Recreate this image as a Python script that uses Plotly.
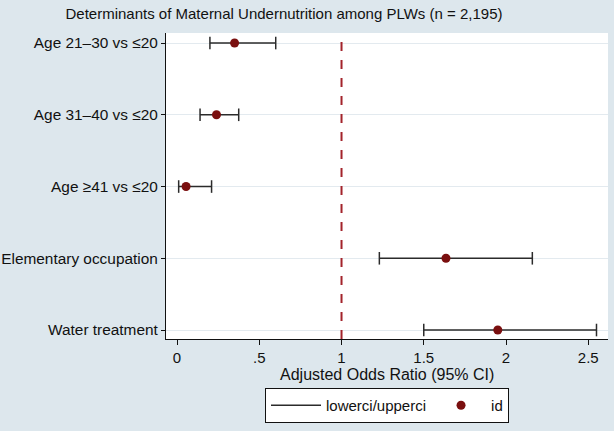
import plotly.graph_objects as go

categories = ["Age 21\u201330 vs \u226420", "Age 31\u201340 vs \u226420", "Age \u226541 vs \u226420",
              "Elementary occupation", "Water treatment"]
aor = [0.35, 0.24, 0.055, 1.635, 1.95]
lower = [0.20, 0.14, 0.01, 1.23, 1.50]
upper = [0.60, 0.375, 0.21, 2.16, 2.55]
xtick_vals = [0, 0.5, 1, 1.5, 2, 2.5]
xtick_text = ["0", ".5", "1", "1.5", "2", "2.5"]

FONT = "Liberation Sans, Arial, sans-serif"
ci_color = "#2b2b2b"
pt_color = "#7a0f0f"

ci_x, ci_y = [], []
for c, lo, hi in zip(categories, lower, upper):
    ci_x += [lo, hi, None]
    ci_y += [c, c, None]

fig = go.Figure()
fig.add_trace(go.Scatter(x=ci_x, y=ci_y, mode="lines", name="lowerci/upperci",
                         line=dict(color=ci_color, width=1.5)))
fig.add_trace(go.Scatter(x=lower + upper, y=categories + categories, mode="markers",
                         showlegend=False, hoverinfo="skip",
                         marker=dict(symbol="line-ns", size=9,
                                     line=dict(color=ci_color, width=1.5))))
fig.add_trace(go.Scatter(x=aor, y=categories, mode="markers", name="id",
                         marker=dict(color=pt_color, size=9, symbol="circle")))

fig.add_shape(type="line", xref="x", yref="paper", x0=1, x1=1, y0=0, y1=1,
              line=dict(color="#a3232b", width=2, dash="dash"))

fig.update_layout(
    width=614, height=431,
    margin=dict(l=166, r=6, t=33, b=92, autoexpand=False),
    paper_bgcolor="#dde7ed",
    plot_bgcolor="white",
    font=dict(family=FONT, size=16, color="#111111"),
    title=dict(text="Determinants of Maternal Undernutrition among PLWs (n = 2,195)",
               x=284 / 614, xanchor="center", y=1 - 14 / 431, yanchor="middle",
               font=dict(family=FONT, size=15, color="#111111")),
    legend=dict(orientation="h", x=0.5, xanchor="center", y=-0.16, yanchor="top",
                bgcolor="white", bordercolor="#111111", borderwidth=1,
                font=dict(family=FONT, size=15, color="#111111"),
                itemwidth=50, tracegroupgap=0),
    showlegend=True,
)
fig.update_xaxes(range=[-0.067, 2.62], tickvals=xtick_vals, ticktext=xtick_text,
                 showgrid=False, zeroline=False, showline=True, linecolor="#111111",
                 linewidth=1.2, ticks="outside", ticklen=5, tickcolor="#111111",
                 tickfont=dict(size=15), automargin=False)
fig.update_yaxes(type="category", categoryorder="array", categoryarray=categories,
                 range=[4.125, -0.14], showgrid=True, gridcolor="#e3eaef", gridwidth=1,
                 zeroline=False, showline=True, linecolor="#111111", linewidth=1.2,
                 ticks="outside", ticklen=4, tickcolor="#111111", tickfont=dict(size=15.4),
                 automargin=False)
fig.add_annotation(text="Adjusted Odds Ratio (95% CI)", xref="paper", yref="paper",
                   x=0.5, y=(339 - 374) / 306, xanchor="center", yanchor="middle",
                   showarrow=False, font=dict(family=FONT, size=16, color="#111111"))

fig.write_html("out.html")
